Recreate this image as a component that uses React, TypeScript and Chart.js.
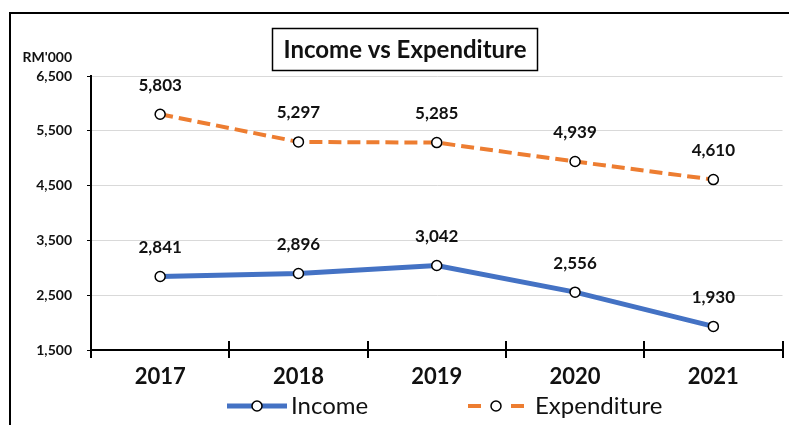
import React, { useEffect, useRef } from "react";
import { Chart, registerables } from "chart.js";

Chart.register(...registerables);

const years = ["2017", "2018", "2019", "2020", "2021"];
const income = [2841, 2896, 3042, 2556, 1930];
const expenditure = [5803, 5297, 5285, 4939, 4610];
const yMin = 1500;
const yMax = 6500;
const yStep = 1000;
const titleText = "Income vs Expenditure";
const unitText = "RM'000";
const seriesNames = ["Income", "Expenditure"];

const FONT = "Lato, 'Open Sans', sans-serif";
const BLUE = "#4472C4";
const ORANGE = "#ED7D31";
const INK = "#111111";

const fmt = (v: number) => v.toLocaleString("en-US");

const decorPlugin = {
  id: "decor",
  beforeDraw(chart: any) {
    const ctx = chart.ctx;
    ctx.save();
    ctx.fillStyle = "#ffffff";
    ctx.fillRect(0, 0, chart.width, chart.height);
    // outer frame
    ctx.strokeStyle = "#000";
    ctx.lineWidth = 2;
    ctx.strokeRect(10, 13, chart.width + 20, chart.height + 20);
    // title box
    ctx.lineWidth = 1.5;
    ctx.strokeRect(272.5, 28.5, 265, 42);
    ctx.fillStyle = INK;
    ctx.font = `bold 24px ${FONT}`;
    ctx.textAlign = "center";
    ctx.textBaseline = "middle";
    ctx.fillText(titleText, 405, 50);
    // unit label
    ctx.font = `bold 14px ${FONT}`;
    ctx.textAlign = "right";
    ctx.fillText(unitText, 72, 57);
    ctx.restore();
  },
  afterDraw(chart: any) {
    const ctx = chart.ctx;
    const xs = chart.scales.x;
    const area = chart.chartArea;
    ctx.save();
    // tick marks crossing the x axis
    ctx.strokeStyle = "#000";
    ctx.lineWidth = 2;
    for (let i = 1; i <= years.length; i++) {
      const x = Math.round(xs.getPixelForValue(i - 0.5));
      ctx.beginPath();
      ctx.moveTo(x, area.bottom - 9);
      ctx.lineTo(x, area.bottom);
      ctx.stroke();
    }
    // data labels
    ctx.fillStyle = INK;
    ctx.font = `bold 17px ${FONT}`;
    ctx.textAlign = "center";
    ctx.textBaseline = "middle";
    chart.data.datasets.forEach((ds: any, di: number) => {
      const meta = chart.getDatasetMeta(di);
      meta.data.forEach((pt: any, i: number) => {
        ctx.fillText(fmt(ds.data[i]), pt.x, pt.y - 29);
      });
    });
    // legend
    const ly = 406;
    const items = [
      { x0: 227, x1: 287, cx: 257, tx: 291, color: BLUE, split: false, w: 5 },
      { x0: 468, x1: 524, cx: 496, tx: 535, color: ORANGE, split: true, w: 4 },
    ];
    items.forEach((it, idx) => {
      ctx.strokeStyle = it.color;
      ctx.lineWidth = it.w;
      ctx.beginPath();
      if (it.split) {
        ctx.moveTo(it.x0, ly);
        ctx.lineTo(it.x0 + 13, ly);
        ctx.moveTo(it.x1 - 13, ly);
        ctx.lineTo(it.x1, ly);
      } else {
        ctx.moveTo(it.x0, ly);
        ctx.lineTo(it.x1, ly);
      }
      ctx.stroke();
      ctx.beginPath();
      ctx.arc(it.cx, ly, 5, 0, Math.PI * 2);
      ctx.fillStyle = "#fff";
      ctx.fill();
      ctx.strokeStyle = "#000";
      ctx.lineWidth = 1.5;
      ctx.stroke();
      ctx.fillStyle = INK;
      ctx.font = `24px ${FONT}`;
      ctx.textAlign = "left";
      ctx.textBaseline = "middle";
      ctx.fillText(seriesNames[idx], it.tx, ly);
    });
    ctx.restore();
  },
};

export default function App() {
  const ref = useRef<HTMLCanvasElement | null>(null);
  useEffect(() => {
    if (!ref.current) return;
    const chart = new Chart(ref.current, {
      type: "line",
      data: {
        labels: years,
        datasets: [
          {
            label: seriesNames[0],
            data: income,
            borderColor: BLUE,
            borderWidth: 5,
            pointRadius: 5,
            pointBackgroundColor: "#fff",
            pointBorderColor: "#000",
            pointBorderWidth: 1.5,
            tension: 0,
          },
          {
            label: seriesNames[1],
            data: expenditure,
            borderColor: ORANGE,
            borderWidth: 4,
            borderDash: [13, 6],
            pointRadius: 5,
            pointBackgroundColor: "#fff",
            pointBorderColor: "#000",
            pointBorderWidth: 1.5,
            tension: 0,
          },
        ],
      },
      options: {
        responsive: false,
        animation: false,
        layout: { padding: { top: 76, left: 0, right: 5, bottom: 0 } },
        plugins: {
          legend: { display: false },
          title: { display: false },
          tooltip: { enabled: false },
        },
        scales: {
          x: {
            offset: true,
            grid: {
              offset: true,
              drawOnChartArea: false,
              drawTicks: true,
              tickLength: 8,
              tickColor: "#000",
              lineWidth: 2,
            },
            border: { color: "#000", width: 2 },
            ticks: {
              color: INK,
              padding: 6,
              font: { family: FONT, size: 22, weight: "bold" },
            },
            afterFit(scale: any) {
              scale.height = 75;
            },
          },
          y: {
            min: yMin,
            max: yMax,
            grid: {
              color: "#d9d9d9",
              lineWidth: 1,
              tickLength: 4,
              tickColor: "#000",
            },
            border: { color: "#000", width: 2 },
            ticks: {
              stepSize: yStep,
              color: INK,
              padding: 15,
              font: { family: FONT, size: 14, weight: "bold" },
              callback: (v: any) => fmt(Number(v)),
            },
            afterFit(scale: any) {
              scale.width = 91;
            },
          },
        },
      },
      plugins: [decorPlugin],
    });
    return () => chart.destroy();
  }, []);
  return (
    <div style={{ position: "fixed", left: 0, top: 0, width: 789, height: 425, overflow: "hidden" }}>
      <canvas ref={ref} width={789} height={425} style={{ display: "block", width: 789, height: 425 }} />
    </div>
  );
}
